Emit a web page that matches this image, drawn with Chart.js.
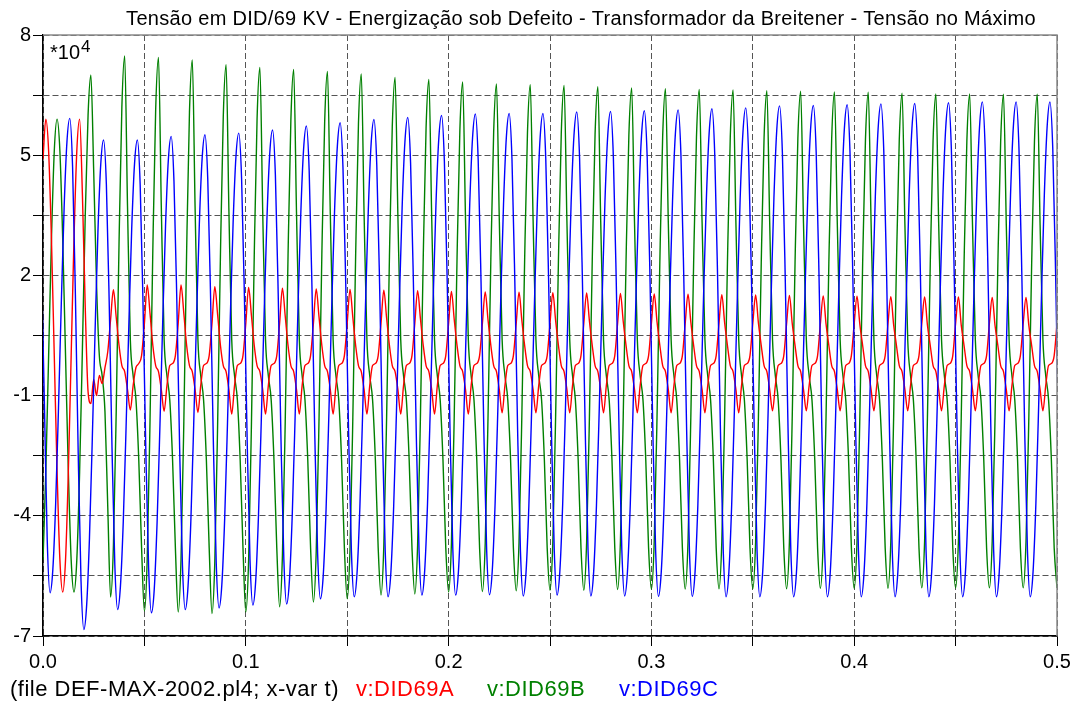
<!DOCTYPE html>
<html lang="pt-BR">
<head>
<meta charset="utf-8">
<title>Tensão em DID/69 KV</title>
<script src="https://cdn.jsdelivr.net/npm/chart.js@4.4.1/dist/chart.umd.min.js"></script>
<style>
  html, body { margin: 0; padding: 0; background: #fff; }
  #grafico { display: block; }
</style>
</head>
<body>
<canvas id="grafico" width="1080" height="705"></canvas>
<script>
// Amostragem: 12 pontos por ciclo de 60 Hz (valores em *10^4 V)
const passo = 1 / 720;

// Fase A - v:DID69A (pico em i = 1 + 12k)
const tensaoA = [
  4.9, 5.9, 5.1, 2.9, 0.0, -2.9, -5.1, -5.9, -5.1, -2.9, 0.0, 2.9,
  5.1, 5.9, 4.0, 1.2, -0.9, -1.2, -0.6, -1.0, -0.5, -0.7, -0.3, 0.1,
  0.9, 1.64, 0.95, 0.25, -0.25, -0.4, -0.85, -1.36, -0.75, -0.3, -0.2, 0.0,
  0.8, 1.76, 1.05, 0.25, -0.25, -0.4, -0.85, -1.39, -0.75, -0.25, -0.2, 0.0,
  0.8, 1.76, 1.05, 0.25, -0.25, -0.4, -0.85, -1.42, -0.75, -0.25, -0.2, 0.0,
  0.8, 1.72, 1.02, 0.25, -0.25, -0.4, -0.85, -1.46, -0.75, -0.25, -0.2, 0.0,
  0.8, 1.70, 1.00, 0.25, -0.25, -0.4, -0.85, -1.46, -0.75, -0.25, -0.2, 0.0,
  0.8, 1.68, 0.98, 0.25, -0.25, -0.4, -0.85, -1.46, -0.75, -0.25, -0.2, 0.0,
  0.8, 1.66, 0.96, 0.25, -0.25, -0.4, -0.85, -1.46, -0.75, -0.25, -0.2, 0.0,
  0.8, 1.65, 0.95, 0.25, -0.25, -0.4, -0.85, -1.46, -0.75, -0.25, -0.2, 0.0,
  0.8, 1.63, 0.93, 0.25, -0.25, -0.4, -0.85, -1.46, -0.75, -0.25, -0.2, 0.0,
  0.8, 1.62, 0.92, 0.25, -0.25, -0.4, -0.85, -1.46, -0.75, -0.25, -0.2, 0.0,
  0.8, 1.60, 0.90, 0.25, -0.25, -0.4, -0.85, -1.46, -0.75, -0.25, -0.2, 0.0,
  0.8, 1.59, 0.89, 0.25, -0.25, -0.4, -0.85, -1.43, -0.75, -0.25, -0.2, 0.0,
  0.8, 1.58, 0.88, 0.25, -0.25, -0.4, -0.85, -1.43, -0.75, -0.25, -0.2, 0.0,
  0.8, 1.57, 0.87, 0.25, -0.25, -0.4, -0.85, -1.43, -0.75, -0.25, -0.2, 0.0,
  0.8, 1.56, 0.86, 0.25, -0.25, -0.4, -0.85, -1.43, -0.75, -0.25, -0.2, 0.0,
  0.8, 1.55, 0.85, 0.25, -0.25, -0.4, -0.85, -1.43, -0.75, -0.25, -0.2, 0.0,
  0.8, 1.54, 0.84, 0.25, -0.25, -0.4, -0.85, -1.43, -0.75, -0.25, -0.2, 0.0,
  0.8, 1.53, 0.83, 0.25, -0.25, -0.4, -0.85, -1.43, -0.75, -0.25, -0.2, 0.0,
  0.8, 1.52, 0.82, 0.25, -0.25, -0.4, -0.85, -1.43, -0.75, -0.25, -0.2, 0.0,
  0.8, 1.51, 0.81, 0.25, -0.25, -0.4, -0.85, -1.38, -0.75, -0.25, -0.2, 0.0,
  0.8, 1.50, 0.80, 0.25, -0.25, -0.4, -0.85, -1.38, -0.75, -0.25, -0.2, 0.0,
  0.8, 1.49, 0.79, 0.25, -0.25, -0.4, -0.85, -1.38, -0.75, -0.25, -0.2, 0.0,
  0.8, 1.48, 0.78, 0.25, -0.25, -0.4, -0.85, -1.38, -0.75, -0.25, -0.2, 0.0,
  0.8, 1.47, 0.77, 0.25, -0.25, -0.4, -0.85, -1.38, -0.75, -0.25, -0.2, 0.0,
  0.8, 1.46, 0.76, 0.25, -0.25, -0.4, -0.85, -1.38, -0.75, -0.25, -0.2, 0.0,
  0.8, 1.46, 0.76, 0.25, -0.25, -0.4, -0.85, -1.38, -0.75, -0.25, -0.2, 0.0,
  0.8, 1.45, 0.75, 0.25, -0.25, -0.4, -0.85, -1.38, -0.75, -0.25, -0.2, 0.0,
  0.8, 1.45, 0.75, 0.25, -0.25, -0.4, -0.85, -1.38, -0.75, -0.25, -0.2, 0.0,
  0.8
];

// Fase B - v:DID69B (vale em i = 12k, pico em i = 5 + 12k)
const tensaoB = [
  -5.1, -2.9, 0.0, 2.9, 5.1, 5.9, 5.1, 2.9, 0.0, -2.9, -5.1, -5.9,
  -5.1, -2.9, 0.2, 3.5, 6.0, 7.0, 4.6, 1.8, 0.0, -0.5, -1.4, -3.8,
  -6.03, -4.75, -1.37, 2.82, 6.20, 7.48, 3.74, 0.4, -0.5, -1.1, -2.6, -4.8,
  -6.38, -5.07, -1.61, 2.67, 6.13, 7.44, 3.72, 0.4, -0.5, -1.1, -2.6, -4.8,
  -6.40, -5.09, -1.65, 2.63, 6.07, 7.38, 3.69, 0.4, -0.5, -1.1, -2.6, -4.8,
  -6.44, -5.14, -1.71, 2.53, 5.96, 7.26, 3.63, 0.4, -0.5, -1.1, -2.6, -4.8,
  -6.40, -5.11, -1.71, 2.50, 5.90, 7.19, 3.60, 0.4, -0.5, -1.1, -2.6, -4.8,
  -6.27, -5.00, -1.64, 2.51, 5.87, 7.14, 3.57, 0.4, -0.5, -1.1, -2.6, -4.8,
  -6.15, -4.89, -1.58, 2.52, 5.83, 7.09, 3.55, 0.4, -0.5, -1.1, -2.6, -4.8,
  -6.07, -4.83, -1.55, 2.51, 5.79, 7.03, 3.52, 0.4, -0.5, -1.1, -2.6, -4.8,
  -5.98, -4.75, -1.52, 2.48, 5.71, 6.94, 3.47, 0.4, -0.5, -1.1, -2.6, -4.8,
  -5.95, -4.73, -1.52, 2.46, 5.67, 6.89, 3.45, 0.4, -0.5, -1.1, -2.6, -4.8,
  -5.90, -4.69, -1.51, 2.44, 5.62, 6.83, 3.42, 0.4, -0.5, -1.1, -2.6, -4.8,
  -5.89, -4.69, -1.52, 2.41, 5.58, 6.78, 3.39, 0.4, -0.5, -1.1, -2.6, -4.8,
  -5.87, -4.67, -1.51, 2.40, 5.56, 6.76, 3.38, 0.4, -0.5, -1.1, -2.6, -4.8,
  -5.86, -4.66, -1.51, 2.39, 5.54, 6.74, 3.37, 0.4, -0.5, -1.1, -2.6, -4.8,
  -5.86, -4.67, -1.52, 2.37, 5.52, 6.71, 3.36, 0.4, -0.5, -1.1, -2.6, -4.8,
  -5.84, -4.65, -1.52, 2.36, 5.49, 6.68, 3.34, 0.4, -0.5, -1.1, -2.6, -4.8,
  -5.83, -4.64, -1.52, 2.35, 5.47, 6.66, 3.33, 0.4, -0.5, -1.1, -2.6, -4.8,
  -5.83, -4.65, -1.53, 2.34, 5.45, 6.64, 3.32, 0.4, -0.5, -1.1, -2.6, -4.8,
  -5.82, -4.64, -1.52, 2.33, 5.45, 6.63, 3.32, 0.4, -0.5, -1.1, -2.6, -4.8,
  -5.82, -4.64, -1.53, 2.32, 5.43, 6.61, 3.31, 0.4, -0.5, -1.1, -2.6, -4.8,
  -5.82, -4.64, -1.53, 2.32, 5.42, 6.60, 3.30, 0.4, -0.5, -1.1, -2.6, -4.8,
  -5.81, -4.63, -1.54, 2.31, 5.40, 6.58, 3.29, 0.4, -0.5, -1.1, -2.6, -4.8,
  -5.81, -4.63, -1.54, 2.30, 5.39, 6.57, 3.29, 0.4, -0.5, -1.1, -2.6, -4.8,
  -5.81, -4.64, -1.55, 2.29, 5.38, 6.55, 3.28, 0.4, -0.5, -1.1, -2.6, -4.8,
  -5.80, -4.63, -1.55, 2.28, 5.36, 6.53, 3.27, 0.4, -0.5, -1.1, -2.6, -4.8,
  -5.80, -4.63, -1.55, 2.28, 5.36, 6.53, 3.27, 0.4, -0.5, -1.1, -2.6, -4.8,
  -5.80, -4.63, -1.55, 2.27, 5.35, 6.52, 3.26, 0.4, -0.5, -1.1, -2.6, -4.8,
  -5.80, -4.63, -1.55, 2.27, 5.35, 6.52, 3.26, 0.4, -0.5, -1.1, -2.6, -4.8,
  -5.80
];

// Fase C - v:DID69C, meio passo deslocada (vale em i = 3 + 12k, pico em i = 10 + 12k)
const tensaoC = [
  2.0, -1.2, -4.6,
  -5.92, -5.33, -3.69, -1.31, 1.31, 3.69, 5.33, 5.92, 4.71, 1.52, -2.44, -5.63,
  -6.84, -6.23, -4.54, -2.09, 0.63, 3.08, 4.77, 5.38, 4.27, 1.34, -2.30, -5.23,
  -6.34, -5.75, -4.14, -1.78, 0.82, 3.18, 4.79, 5.38, 4.26, 1.31, -2.35, -5.30,
  -6.42, -5.83, -4.18, -1.79, 0.84, 3.23, 4.88, 5.47, 4.35, 1.40, -2.27, -5.22,
  -6.34, -5.75, -4.11, -1.73, 0.90, 3.28, 4.92, 5.51, 4.39, 1.44, -2.23, -5.18,
  -6.30, -5.71, -4.07, -1.69, 0.94, 3.32, 4.96, 5.55, 4.43, 1.49, -2.17, -5.11,
  -6.23, -5.64, -4.00, -1.62, 1.02, 3.40, 5.04, 5.63, 4.51, 1.55, -2.12, -5.08,
  -6.20, -5.60, -3.96, -1.56, 1.09, 3.49, 5.13, 5.73, 4.61, 1.66, -2.00, -4.95,
  -6.07, -5.48, -3.84, -1.45, 1.19, 3.58, 5.22, 5.81, 4.69, 1.73, -1.94, -4.90,
  -6.02, -5.42, -3.78, -1.39, 1.26, 3.65, 5.29, 5.89, 4.76, 1.78, -1.91, -4.89,
  -6.02, -5.42, -3.77, -1.37, 1.29, 3.69, 5.34, 5.94, 4.81, 1.83, -1.87, -4.85,
  -5.98, -5.38, -3.73, -1.32, 1.33, 3.74, 5.39, 5.99, 4.85, 1.86, -1.85, -4.84,
  -5.98, -5.38, -3.72, -1.31, 1.36, 3.77, 5.43, 6.03, 4.89, 1.89, -1.83, -4.83,
  -5.97, -5.37, -3.71, -1.30, 1.37, 3.78, 5.44, 6.04, 4.90, 1.89, -1.85, -4.86,
  -6.00, -5.40, -3.74, -1.32, 1.36, 3.78, 5.44, 6.04, 4.90, 1.89, -1.83, -4.84,
  -5.98, -5.38, -3.71, -1.29, 1.39, 3.81, 5.48, 6.08, 4.93, 1.91, -1.83, -4.85,
  -6.00, -5.40, -3.73, -1.30, 1.39, 3.82, 5.49, 6.09, 4.94, 1.92, -1.83, -4.85,
  -6.00, -5.39, -3.72, -1.29, 1.40, 3.83, 5.50, 6.11, 4.96, 1.93, -1.83, -4.86,
  -6.01, -5.40, -3.73, -1.29, 1.41, 3.85, 5.52, 6.13, 4.98, 1.94, -1.82, -4.86,
  -6.01, -5.40, -3.72, -1.28, 1.43, 3.87, 5.55, 6.16, 5.00, 1.96, -1.82, -4.86,
  -6.02, -5.41, -3.73, -1.27, 1.43, 3.89, 5.57, 6.18, 5.02, 1.97, -1.81, -4.86,
  -6.02, -5.41, -3.72, -1.25, 1.46, 3.93, 5.62, 6.23, 5.07, 2.00, -1.79, -4.86,
  -6.02, -5.41, -3.72, -1.25, 1.47, 3.94, 5.63, 6.24, 5.08, 2.01, -1.79, -4.86,
  -6.02, -5.41, -3.71, -1.24, 1.48, 3.95, 5.65, 6.26, 5.09, 2.02, -1.78, -4.85,
  -6.02, -5.41, -3.71, -1.24, 1.49, 3.97, 5.67, 6.28, 5.11, 2.04, -1.78, -4.85,
  -6.02, -5.40, -3.71, -1.23, 1.50, 3.98, 5.67, 6.29, 5.12, 2.04, -1.77, -4.85,
  -6.02, -5.40, -3.70, -1.22, 1.51, 3.99, 5.69, 6.31, 5.14, 2.06, -1.77, -4.85,
  -6.02, -5.40, -3.70, -1.22, 1.53, 4.01, 5.71, 6.33, 5.16, 2.07, -1.76, -4.84,
  -6.02, -5.40, -3.70, -1.22, 1.53, 4.01, 5.71, 6.33, 5.16, 2.07, -1.76, -4.84,
  -6.02, -5.40, -3.70, -1.22, 1.53, 4.01, 5.71, 6.33, 5.16, 2.07, -1.76, -4.84
];

const titulo = "Tensão em DID/69 KV - Energização sob Defeito - Transformador da Breitener - Tensão no Máximo";
const rodape = [
  { texto: "(file DEF-MAX-2002.pl4; x-var t)", cor: "#000000", x: 10 },
  { texto: "v:DID69A", cor: "#ff0000", x: 356 },
  { texto: "v:DID69B", cor: "#008000", x: 487 },
  { texto: "v:DID69C", cor: "#0000ff", x: 619 }
];

// Eixos
const tMin = 0, tMax = 0.5, tPasso = 0.05;
const vMin = -7, vMax = 8, vPasso = 1.5;

const fonte = '"Liberation Sans", Arial, sans-serif';
Chart.defaults.font.family = fonte;
Chart.defaults.color = "#000";

function pontos(valores, deslocamento) {
  return valores.map((v, i) => ({ x: (i + deslocamento) * passo, y: v }));
}

// Moldura, titulo, fator de escala e rodape
const textosPlugin = {
  id: "textos",
  afterDraw(chart) {
    const { ctx, chartArea: a } = chart;
    ctx.save();
    ctx.strokeStyle = "#8a8a8a";
    ctx.lineWidth = 1.5;
    ctx.beginPath();
    ctx.moveTo(a.left, a.top);
    ctx.lineTo(a.right, a.top);
    ctx.lineTo(a.right, a.bottom);
    ctx.stroke();

    ctx.fillStyle = "#000";
    ctx.textBaseline = "alphabetic";
    ctx.textAlign = "center";
    ctx.font = "20px " + fonte;
    ctx.letterSpacing = "0.3px";
    ctx.fillText(titulo, 581, 25);

    ctx.textAlign = "left";
    ctx.letterSpacing = "0px";
    ctx.font = "20px " + fonte;
    ctx.fillText("*10", 50, 59);
    const w = ctx.measureText("*10").width;
    ctx.font = "17px " + fonte;
    ctx.fillText("4", 51 + w, 52);

    ctx.font = "22px " + fonte;
    ctx.letterSpacing = "0.5px";
    rodape.forEach((item) => {
      ctx.fillStyle = item.cor;
      ctx.fillText(item.texto, item.x, 696);
    });
    ctx.restore();
  }
};

const ctx = document.getElementById("grafico").getContext("2d");

new Chart(ctx, {
  type: "line",
  data: {
    datasets: [
      { label: "v:DID69C", data: pontos(tensaoC, -0.5), borderColor: "#0000ff", order: 1 },
      { label: "v:DID69A", data: pontos(tensaoA, 0), borderColor: "#ff0000", order: 2 },
      { label: "v:DID69B", data: pontos(tensaoB, 0), borderColor: "#008000", order: 3 }
    ]
  },
  options: {
    responsive: false,
    animation: false,
    events: [],
    layout: { padding: { top: 35, right: 23, left: 0, bottom: 0 } },
    elements: {
      point: { radius: 0 },
      line: { borderWidth: 1.4, cubicInterpolationMode: "monotone", fill: false }
    },
    plugins: {
      legend: { display: false },
      title: { display: false },
      tooltip: { enabled: false }
    },
    scales: {
      x: {
        type: "linear",
        min: tMin,
        max: tMax,
        afterFit(scale) { scale.height = 69; },
        ticks: {
          stepSize: tPasso,
          maxRotation: 0,
          autoSkip: false,
          padding: 4,
          font: { size: 20 },
          callback: (v) => Math.round(v * 100) % 10 === 0 ? v.toFixed(1) : ""
        },
        grid: {
          color: "#555",
          lineWidth: 1,
          tickLength: 10,
          tickColor: "#000",
          tickBorderDash: []
        },
        border: { display: true, color: "#000", width: 1.5, dash: [6, 3] }
      },
      y: {
        min: vMin,
        max: vMax,
        afterFit(scale) { scale.width = 43; },
        ticks: {
          stepSize: vPasso,
          autoSkip: false,
          padding: 2,
          font: { size: 20 },
          callback: (v) => Math.round(v - vMin) % 3 === 0 ? String(v) : ""
        },
        grid: {
          color: "#555",
          lineWidth: 1,
          tickLength: 10,
          tickColor: "#000",
          tickBorderDash: []
        },
        border: { display: true, color: "#000", width: 1.5, dash: [6, 3] }
      }
    }
  },
  plugins: [textosPlugin]
});
</script>
</body>
</html>
